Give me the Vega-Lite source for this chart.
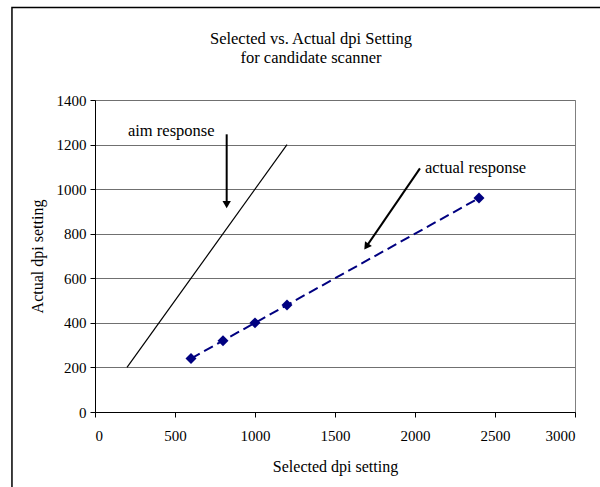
{
  "$schema": "https://vega.github.io/schema/vega-lite/v6.json",
  "autosize": {"type": "none"},
  "width": 480,
  "height": 312,
  "padding": {"left": 95, "top": 100, "right": 25, "bottom": 75},
  "background": "white",
  "title": {
    "text": ["Selected vs. Actual dpi Setting", "for candidate scanner"],
    "font": "Liberation Serif",
    "fontSize": 16.5,
    "fontWeight": "normal",
    "color": "black",
    "lineHeight": 19,
    "anchor": "middle",
    "dx": -24,
    "offset": 24,
    "dy": 84
  },
  "config": {
    "view": {"stroke": "#808080", "strokeWidth": 1},
    "axis": {
      "labelFont": "Liberation Serif",
      "labelFontSize": 15,
      "labelColor": "black",
      "titleFont": "Liberation Serif",
      "titleFontSize": 16,
      "titleFontWeight": "normal",
      "titleColor": "black",
      "tickColor": "black",
      "domainColor": "black",
      "tickSize": 5,
      "format": "d"
    }
  },
  "datasets": {
    "aim": [
      {"selected": 200, "actual": 200},
      {"selected": 1200, "actual": 1200}
    ],
    "measured": [
      {"selected": 600, "actual": 240},
      {"selected": 800, "actual": 320},
      {"selected": 1000, "actual": 400},
      {"selected": 1200, "actual": 480},
      {"selected": 2400, "actual": 960}
    ],
    "notes": [
      {"name": "aim", "label": "aim response", "x": 206, "y": 1260, "ax": 823, "ay": 1246, "tx": 823, "ty": 930},
      {"name": "actual", "label": "actual response", "x": 2062, "y": 1093, "ax": 2031, "ay": 1093, "tx": 1696, "ty": 742}
    ]
  },
  "layer": [
    {
      "data": {"name": "aim"},
      "mark": {"type": "line", "color": "black", "strokeWidth": 1.2},
      "encoding": {
        "x": {
          "field": "selected", "type": "quantitative",
          "scale": {"domain": [0, 3000], "nice": false},
          "axis": {"values": [0, 500, 1000, 1500, 2000, 2500, 3000], "grid": false, "title": "Selected dpi setting", "labelPadding": 11, "titlePadding": 15}
        },
        "y": {
          "field": "actual", "type": "quantitative",
          "scale": {"domain": [0, 1400], "nice": false},
          "axis": {"values": [0, 200, 400, 600, 800, 1000, 1200, 1400], "grid": true, "gridColor": "#707070", "gridOpacity": 1, "title": "Actual dpi setting", "labelPadding": 4, "titlePadding": 11}
        }
      }
    },
    {
      "data": {"name": "measured"},
      "mark": {"type": "line", "color": "#000080", "strokeWidth": 2, "strokeDash": [10, 5]},
      "encoding": {
        "x": {"field": "selected", "type": "quantitative"},
        "y": {"field": "actual", "type": "quantitative"}
      }
    },
    {
      "data": {"name": "measured"},
      "mark": {"type": "point", "shape": "diamond", "filled": true, "color": "#000080", "opacity": 1, "size": 120},
      "encoding": {
        "x": {"field": "selected", "type": "quantitative"},
        "y": {"field": "actual", "type": "quantitative"}
      }
    },
    {
      "data": {"name": "notes"},
      "mark": {"type": "rule", "color": "black", "strokeWidth": 2},
      "encoding": {
        "x": {"field": "ax", "type": "quantitative"},
        "y": {"field": "ay", "type": "quantitative"},
        "x2": {"field": "tx"},
        "y2": {"field": "ty"}
      }
    },
    {
      "data": {"name": "notes"},
      "transform": [{"filter": "datum.name === 'aim'"}],
      "mark": {"type": "point", "shape": "triangle-down", "filled": true, "color": "black", "opacity": 1, "size": 70},
      "encoding": {
        "x": {"field": "tx", "type": "quantitative"},
        "y": {"field": "ty", "type": "quantitative"}
      }
    },
    {
      "data": {"name": "notes"},
      "transform": [{"filter": "datum.name === 'actual'"}],
      "mark": {"type": "point", "shape": "triangle-down", "filled": true, "color": "black", "opacity": 1, "size": 70, "angle": 35},
      "encoding": {
        "x": {"field": "tx", "type": "quantitative"},
        "y": {"field": "ty", "type": "quantitative"}
      }
    },
    {
      "data": {"name": "notes"},
      "mark": {"type": "text", "font": "Liberation Serif", "fontSize": 16.5, "color": "black", "align": "left", "baseline": "middle"},
      "encoding": {
        "x": {"field": "x", "type": "quantitative"},
        "y": {"field": "y", "type": "quantitative"},
        "text": {"field": "label"}
      }
    },
    {
      "data": {"values": [{}]},
      "mark": {"type": "rect", "fill": null, "stroke": "black", "strokeWidth": 1.5, "clip": false},
      "encoding": {
        "x": {"datum": -519},
        "x2": {"datum": 3300},
        "y": {"datum": 1815},
        "y2": {"datum": -600}
      }
    }
  ]
}
